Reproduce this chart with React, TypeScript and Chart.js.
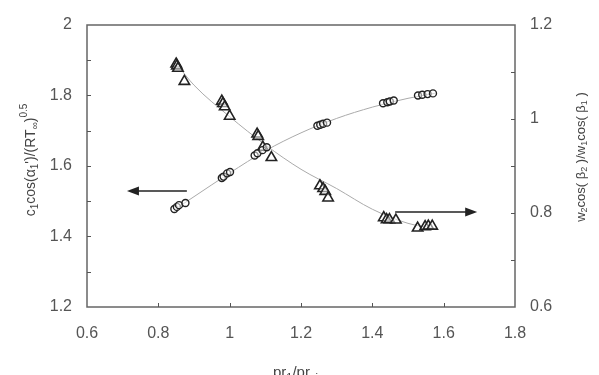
import React, { useEffect, useRef } from "react";
import { Chart, registerables } from "chart.js";
Chart.register(...registerables);

// ---- data ----
const circleX = [0.845, 0.852, 0.858, 0.876, 0.978, 0.983, 0.993, 1.001, 1.070, 1.078, 1.092, 1.104, 1.246, 1.254, 1.262, 1.273, 1.430, 1.442, 1.449, 1.460, 1.528, 1.540, 1.555, 1.570];
const circleY = [1.478, 1.484, 1.489, 1.495, 1.566, 1.570, 1.579, 1.583, 1.630, 1.636, 1.645, 1.653, 1.714, 1.717, 1.720, 1.723, 1.778, 1.781, 1.783, 1.786, 1.800, 1.802, 1.804, 1.806];
const triX = [0.850, 0.852, 0.855, 0.873, 0.978, 0.981, 0.986, 1.000, 1.077, 1.080, 1.093, 1.117, 1.253, 1.262, 1.268, 1.276, 1.432, 1.440, 1.448, 1.466, 1.527, 1.548, 1.557, 1.568];
const triY = [1.117, 1.113, 1.108, 1.080, 1.038, 1.033, 1.026, 1.006, 0.968, 0.963, 0.940, 0.918, 0.858, 0.852, 0.846, 0.832, 0.790, 0.786, 0.786, 0.785, 0.768, 0.771, 0.772, 0.772];
const circleFitX = [0.845, 0.9, 1.0, 1.1, 1.2, 1.3, 1.4, 1.5, 1.575];
const circleFitY = [1.476, 1.513, 1.580, 1.643, 1.694, 1.735, 1.767, 1.792, 1.806];
const triFitX = [0.85, 0.9, 1.0, 1.1, 1.2, 1.3, 1.4, 1.5, 1.57];
const triFitY = [1.118, 1.072, 1.005, 0.945, 0.893, 0.852, 0.808, 0.778, 0.768];
// arrows: [fromX, toX, y]
const leftArrow = [0.88, 0.712, 1.529];
const rightArrow = [1.464, 1.694, 0.802];

const toPts = (xs: number[], ys: number[]) => xs.map((x, i) => ({ x, y: ys[i] }));

type Seg = { t: string; k?: "sub" | "sup" };
const leftTitle: Seg[] = [
  { t: "c" }, { t: "1", k: "sub" }, { t: "cos(" }, { t: "α" }, { t: "1", k: "sub" }, { t: "')/(RT" }, { t: "∞", k: "sub" }, { t: ")" }, { t: "0.5", k: "sup" },
];
const rightTitle: Seg[] = [
  { t: "w" }, { t: "2", k: "sub" }, { t: "cos( " }, { t: "β" }, { t: "2", k: "sub" }, { t: " )/w" }, { t: "1", k: "sub" }, { t: "cos( " }, { t: "β" }, { t: "1", k: "sub" }, { t: " )" },
];
const xTitle: Seg[] = [{ t: "pr" }, { t: "1", k: "sub" }, { t: "/pr" }, { t: "sim", k: "sub" }];

const FONT = "'Liberation Sans', Arial, sans-serif";

function drawRich(ctx: CanvasRenderingContext2D, segs: Seg[], cx: number, cy: number, size: number, rot: number) {
  ctx.save();
  ctx.translate(cx, cy);
  ctx.rotate(rot);
  const fontFor = (s: Seg) => `${s.k ? Math.round(size * 0.7) : size}px ${FONT}`;
  let total = 0;
  for (const s of segs) { ctx.font = fontFor(s); total += ctx.measureText(s.t).width; }
  let x = -total / 2;
  ctx.textBaseline = "middle";
  ctx.fillStyle = "#444";
  for (const s of segs) {
    ctx.font = fontFor(s);
    const dy = s.k === "sub" ? size * 0.3 : s.k === "sup" ? -size * 0.45 : 0;
    ctx.fillText(s.t, x, dy);
    x += ctx.measureText(s.t).width;
  }
  ctx.restore();
}

function arrow(ctx: CanvasRenderingContext2D, x1: number, x2: number, y: number) {
  const dir = Math.sign(x2 - x1);
  ctx.beginPath();
  ctx.moveTo(x1, y);
  ctx.lineTo(x2 - dir * 10, y);
  ctx.stroke();
  ctx.beginPath();
  ctx.moveTo(x2, y);
  ctx.lineTo(x2 - dir * 12, y - 4.5);
  ctx.lineTo(x2 - dir * 12, y + 4.5);
  ctx.closePath();
  ctx.fill();
}

const fmt = (v: any) => String(+(+v).toFixed(2));

const framePlugin = {
  id: "frame",
  afterDraw(chart: any) {
    const { ctx, chartArea: a, scales } = chart;
    const x = scales.x, yl = scales.y, yr = scales.y1;
    ctx.save();
    ctx.strokeStyle = "#666";
    ctx.lineWidth = 1.5;
    ctx.strokeRect(a.left, a.top, a.right - a.left, a.bottom - a.top);
    ctx.lineWidth = 1;
    ctx.strokeStyle = "#555";
    ctx.beginPath();
    for (let v = 0.8; v < 1.79; v += 0.2) {
      const px = Math.round(x.getPixelForValue(v)) + 0.5;
      ctx.moveTo(px, a.bottom); ctx.lineTo(px, a.bottom - 4);
    }
    for (let v = 1.3; v < 1.95; v += 0.1) {
      const py = Math.round(yl.getPixelForValue(v)) + 0.5;
      ctx.moveTo(a.left, py); ctx.lineTo(a.left + 4, py);
    }
    for (let v = 0.7; v < 1.15; v += 0.1) {
      const py = Math.round(yr.getPixelForValue(v)) + 0.5;
      ctx.moveTo(a.right, py); ctx.lineTo(a.right - 4, py);
    }
    ctx.stroke();
    // arrows
    ctx.strokeStyle = "#222";
    ctx.fillStyle = "#222";
    ctx.lineWidth = 1.5;
    arrow(ctx, x.getPixelForValue(leftArrow[0]), x.getPixelForValue(leftArrow[1]), yl.getPixelForValue(leftArrow[2]));
    arrow(ctx, x.getPixelForValue(rightArrow[0]), x.getPixelForValue(rightArrow[1]), yr.getPixelForValue(rightArrow[2]));
    ctx.restore();
    drawRich(ctx, leftTitle, 31, 160, 14, -Math.PI / 2);
    drawRich(ctx, rightTitle, 581, 157, 13, -Math.PI / 2);
    drawRich(ctx, xTitle, 300, 373, 15, 0);
  },
};

export default function App() {
  const ref = useRef<HTMLCanvasElement>(null);
  useEffect(() => {
    if (!ref.current) return;
    const tickFont = { family: FONT, size: 16 };
    const chart = new Chart(ref.current, {
      type: "scatter",
      data: {
        datasets: [
          { data: toPts(circleX, circleY), yAxisID: "y", pointStyle: "circle", pointRadius: 3.5, borderWidth: 1.4, borderColor: "#222", backgroundColor: "rgba(255,255,255,0.5)", order: 1 },
          { data: toPts(triX, triY), yAxisID: "y1", pointStyle: "triangle", pointRadius: 6, borderWidth: 1.6, borderColor: "#222", backgroundColor: "rgba(255,255,255,0.5)", order: 1 },
          { type: "line", data: toPts(circleFitX, circleFitY), yAxisID: "y", showLine: true, pointRadius: 0, borderColor: "#aaa", borderWidth: 1, tension: 0.4, cubicInterpolationMode: "monotone", order: 2 } as any,
          { type: "line", data: toPts(triFitX, triFitY), yAxisID: "y1", showLine: true, pointRadius: 0, borderColor: "#aaa", borderWidth: 1, tension: 0.4, cubicInterpolationMode: "monotone", order: 2 } as any,
        ],
      },
      options: {
        animation: false,
        responsive: true,
        maintainAspectRatio: false,
        layout: { padding: { top: 25, left: 0, right: 0, bottom: 0 } },
        plugins: { legend: { display: false }, tooltip: { enabled: false } },
        scales: {
          x: {
            type: "linear", min: 0.6, max: 1.8,
            ticks: { stepSize: 0.2, font: tickFont, color: "#555", padding: 17, maxRotation: 0, callback: fmt },
            grid: { display: false, drawTicks: false }, border: { display: false },
            afterFit: (s: any) => { s.height = 68; },
          },
          y: {
            type: "linear", position: "left", min: 1.2, max: 2,
            ticks: { stepSize: 0.2, font: tickFont, color: "#555", padding: 15, callback: fmt },
            grid: { display: false, drawTicks: false }, border: { display: false },
            afterFit: (s: any) => { s.width = 87; },
          },
          y1: {
            type: "linear", position: "right", min: 0.6, max: 1.2,
            ticks: { stepSize: 0.2, font: tickFont, color: "#555", padding: 15, callback: fmt },
            grid: { display: false, drawTicks: false }, border: { display: false },
            afterFit: (s: any) => { s.width = 84; },
          },
        },
      },
      plugins: [framePlugin],
    });
    return () => chart.destroy();
  }, []);
  return (
    <div style={{ position: "absolute", left: 0, top: 0, width: 599, height: 375, background: "#fff" }}>
      <canvas ref={ref} />
    </div>
  );
}
